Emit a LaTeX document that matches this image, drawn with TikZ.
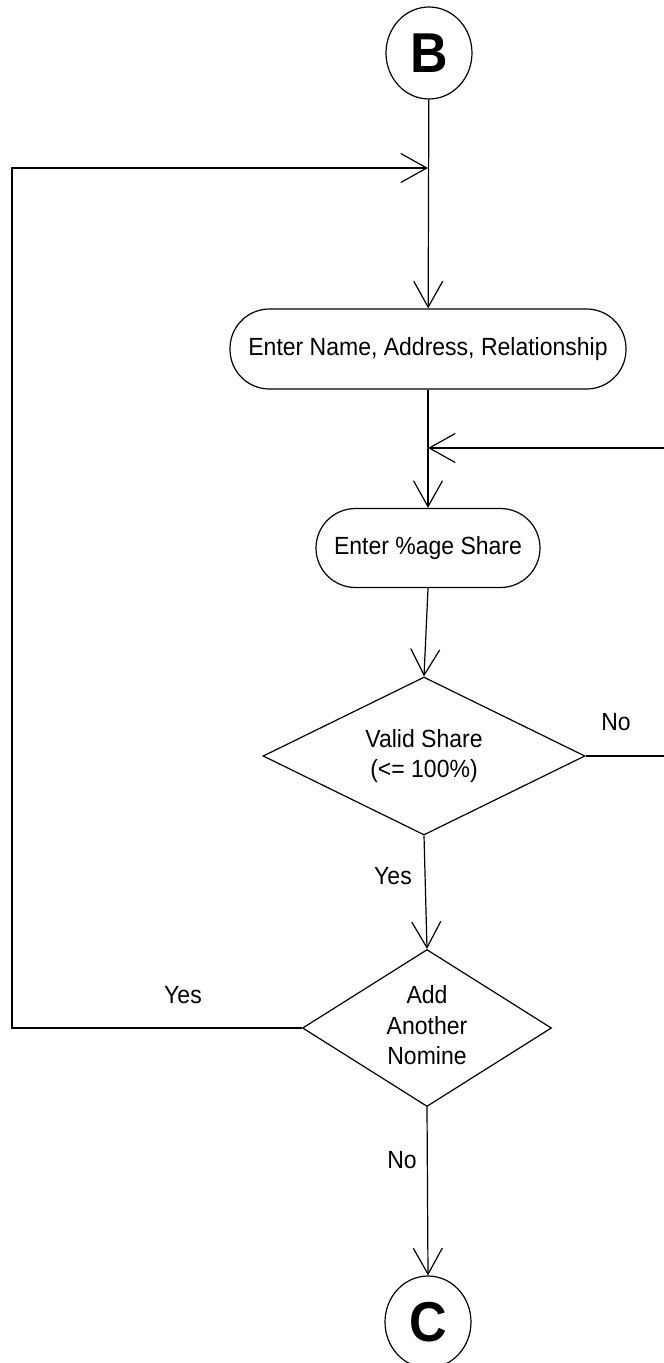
\documentclass[tikz,border=0pt]{standalone}
\usepackage{fontspec}
\setmainfont{Liberation Sans}
\usetikzlibrary{arrows.meta,shapes.geometric}

% text set slightly taller than wide, one or more centred lines
\newcommand{\tallText}[1]{\scalebox{1}[1.08]{\begin{tabular}{@{}c@{}}#1\end{tabular}}}

\begin{document}
\begin{tikzpicture}[x=1pt,y=-1pt,
  every node/.style={font=\fontsize{23}{27.8}\selectfont},
  line/.style={line width=1.2pt, draw=black},
  arr/.style={line, -{Straight Barb[length=26pt,width=29pt]}},
  connector/.style={ellipse, line, minimum width=86pt, minimum height=92pt,
    inner sep=0pt, font=\fontsize{52}{52}\selectfont\bfseries},
  process/.style={rectangle, rounded corners=39.5pt, line, inner sep=0pt},
  decision/.style={diamond, line, aspect=2, inner sep=0pt, align=center},
  lbl/.style={inner sep=0pt}
]
  % page frame
  \useasboundingbox (0,0) rectangle (664,1363);

  % flow nodes
  \node[connector] (B) at (429,53) {\scalebox{1}[1.08]{B}};
  \node[process, minimum width=396pt, minimum height=80pt] (name) at (428,349)
    {\tallText{Enter Name, Address, Relationship}};
  \node[process, minimum width=224pt, minimum height=79pt] (share) at (428,548)
    {\tallText{Enter \%age Share}};
  \node[decision, minimum width=322pt, minimum height=158pt] (valid) at (424,756)
    {\tallText{Valid Share\\(<= 100\%)}};
  \node[decision, aspect=1.6, minimum width=249pt, minimum height=157pt] (more) at (427,1028)
    {\tallText{Add\\Another\\Nomine}};
  \node[connector] (C) at (428,1322) {\scalebox{1}[1.08]{C}};

  % junction and corner points of the loops
  \coordinate (jtop) at (428,168);
  \coordinate (ltop) at (12,168);
  \coordinate (jmid) at (428,448);
  \coordinate (rtop) at (666,448);

  % main flow
  \draw[arr] (B) -- (name);
  \draw[arr] (name) -- (share);
  \draw[arr] (share.south) -- (valid.north);
  \draw[arr] (valid.south) -- (more.north);
  \draw[arr] (more.south) -- (C.north);

  % loops back
  \draw[arr] (more.west) -| (ltop) -- (jtop);
  \draw[arr] (valid.east) -| (rtop) -- (jmid);

  % branch labels
  \node[lbl] (lno1) at (616,724) {\tallText{No}};
  \node[lbl] (lyes1) at (393,878) {\tallText{Yes}};
  \node[lbl] (lyes2) at (183,997) {\tallText{Yes}};
  \node[lbl] (lno2) at (402,1162) {\tallText{No}};
\end{tikzpicture}
\end{document}
